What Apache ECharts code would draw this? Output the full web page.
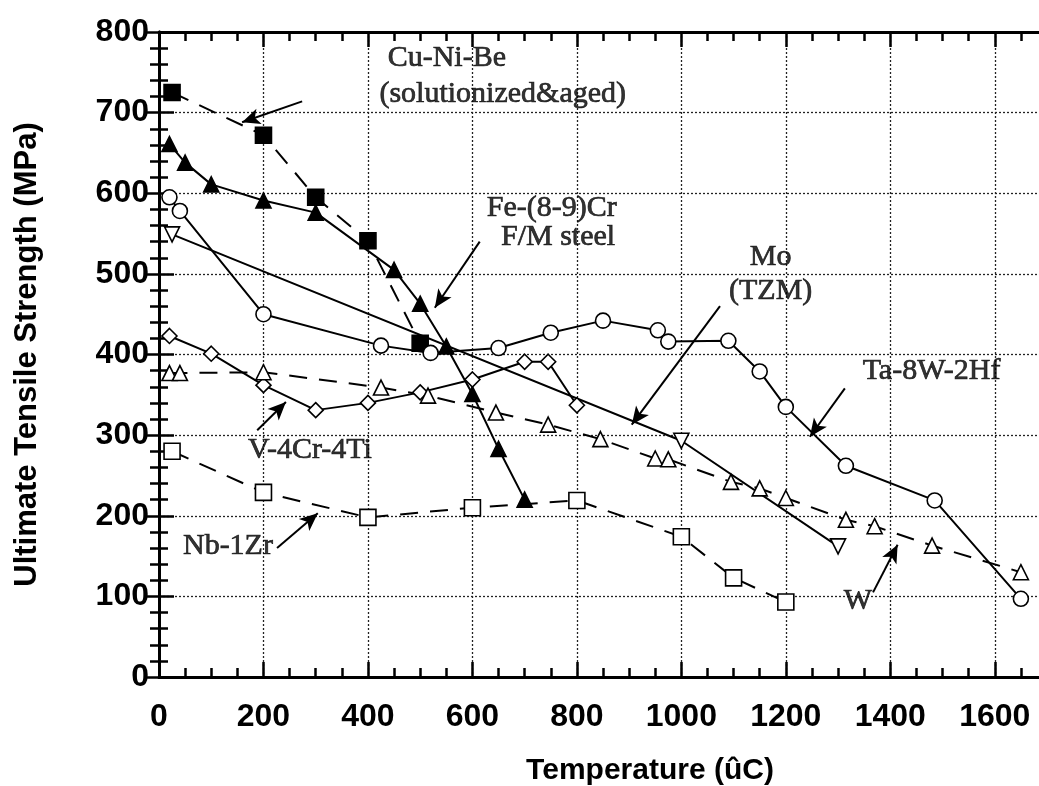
<!DOCTYPE html>
<html>
<head>
<meta charset="utf-8">
<script src="https://cdn.jsdelivr.net/npm/echarts@6/dist/echarts.min.js"></script>
<style>
html,body{margin:0;padding:0;background:#fff;overflow:hidden}
#chart{width:1060px;height:786px}
</style>
</head>
<body>
<div id="chart"></div>
<script>
// values: [temperature (C), UTS (MPa)]
var cuNiBe = [[25,725],[200,672],[300,595],[400,541],[500,414]];
var feCr = [[20,661],[50,638],[100,611],[200,591],[300,576],[450,505],[500,463],[550,410],[600,351],[650,283],[700,220]];
var ta8W2Hf = [[20,595],[40,578],[200,450],[425,411],[520,402],[650,408],[750,427],[850,442],[955,430],[975,416],[1090,417],[1150,379],[1200,335],[1315,262],[1485,219],[1650,97]];
var moTzm = [[25,549],[1000,293],[1300,162]];
var v4Cr4Ti = [[20,423],[100,401],[200,362],[300,331],[400,340],[500,353],[600,369],[700,391],[745,391],[800,337]];
var wData = [[20,377],[40,377],[200,378],[425,359],[515,349],[645,328],[745,313],[845,295],[950,271],[975,270],[1095,242],[1150,234],[1200,222],[1315,195],[1370,187],[1480,163],[1650,130]];
var nb1Zr = [[25,280],[200,229],[400,198],[600,210],[800,219],[1000,174],[1100,123],[1200,93]];

// labels and arrows drawn on the plot (data coords)
var noteText = ['Cu-Ni-Be','(solutionized&aged)','Fe-(8-9)Cr','F/M steel','Mo','(TZM)','Ta-8W-2Hf','V-4Cr-4Ti','Nb-1Zr','W'];
var notePos = [[551,768],[658,723],[752,582],[764,545],[1171,521],[1171,479],[1479,380],[289,282],[132,162],[1338,94]];
var arrows = [[274,714,159,688],[614,540,528,458],[1074,460,905,313],[1313,358,1246,298],[188,306,243,341],[226,160,304,203],[1367,105,1414,164]];

var sans = "'Liberation Sans', Arial, sans-serif";
var serif = "'Liberation Serif', 'Times New Roman', serif";

function makeSeries(name, data, symbol, filled, dashed, rotate){
	return {
		name: name,
		type: 'line',
		data: data,
		xAxisIndex: 0,
		yAxisIndex: 0,
		symbol: symbol,
		symbolSize: symbol == 'rect' ? 16 : 15,
		symbolRotate: rotate || 0,
		showAllSymbol: true,
		lineStyle: {color: '#000', width: 2, type: dashed ? [18, 12] : 'solid'},
		itemStyle: {color: filled ? '#000' : '#fff', borderColor: '#000', borderWidth: 1.6},
		z: 3
	};
}

var chart = echarts.init(document.getElementById('chart'));

var series = [
	makeSeries('Cu-Ni-Be', cuNiBe, 'rect', true, true),
	makeSeries('Fe-(8-9)Cr', feCr, 'triangle', true, false),
	makeSeries('Ta-8W-2Hf', ta8W2Hf, 'circle', false, false),
	makeSeries('Mo (TZM)', moTzm, 'triangle', false, false, 180),
	makeSeries('V-4Cr-4Ti', v4Cr4Ti, 'diamond', false, false),
	makeSeries('W', wData, 'triangle', false, true),
	makeSeries('Nb-1Zr', nb1Zr, 'rect', false, true)
];

// text notes + arrows
series.push({
	type: 'scatter',
	xAxisIndex: 0,
	yAxisIndex: 0,
	symbolSize: 1,
	itemStyle: {color: 'rgba(0,0,0,0)'},
	silent: true,
	z: 5,
	data: notePos.map(function(p, i){ return {name: noteText[i], value: p}; }),
	label: {show: true, position: 'inside', formatter: '{b}', color: '#000', fontFamily: serif, fontSize: 30,
		textBorderColor: '#000', textBorderWidth: 0.7},
	markLine: {
		silent: true,
		symbol: ['none', 'arrow'],
		symbolSize: [12, 18],
		label: {show: false},
		lineStyle: {color: '#000', width: 2, type: 'solid'},
		data: arrows.map(function(a){ return [{coord: [a[0], a[1]]}, {coord: [a[2], a[3]]}]; })
	}
});

function xAx(pos, step, len, main){
	return {
		type: 'value', position: pos, min: 0, max: 1700, interval: step,
		axisLine: {show: main, onZero: false, lineStyle: {color: '#000', width: 3}},
		axisTick: {show: true, inside: true, length: len, lineStyle: {color: '#000', width: 2.5}},
		axisLabel: {show: main && pos == 'bottom', margin: 24, color: '#000', fontFamily: sans, fontWeight: 'bold', fontSize: 32,
			formatter: function(v){ return v % 200 === 0 ? String(v) : ''; }},
		splitLine: {show: main && pos == 'bottom', lineStyle: {color: '#222', width: 1.3, type: [2, 2]}}
	};
}

function yAx(pos, main){
	return {
		type: 'value', position: pos, min: 0, max: 800, interval: 100,
		name: main ? 'Ultimate Tensile Strength (MPa)' : '',
		nameLocation: 'middle', nameGap: 116,
		nameTextStyle: {color: '#000', fontFamily: sans, fontWeight: 'bold', fontSize: 31},
		axisLine: {show: true, lineStyle: {color: '#000', width: 3}},
		axisTick: {show: true, inside: true, length: 15, lineStyle: {color: '#000', width: 2.5}},
		minorTick: {show: true, splitNumber: 5, length: 9, lineStyle: {color: '#000', width: 2.5}},
		axisLabel: {show: main, margin: 10, color: '#000', fontFamily: sans, fontWeight: 'bold', fontSize: 32},
		splitLine: {show: main, lineStyle: {color: '#222', width: 1.3, type: [2, 2]}}
	};
}

var option = {
	animation: false,
	backgroundColor: '#fff',
	grid: {left: 159, top: 32, width: 888, height: 645},
	xAxis: [xAx('bottom', 200, 15, true), xAx('bottom', 50, 9, false), xAx('top', 200, 15, true), xAx('top', 50, 9, false)],
	yAxis: [yAx('left', true), yAx('right', false)],
	graphic: [{
		type: 'text',
		style: {text: 'Temperature (ûC)', x: 650, y: 771, textAlign: 'center', textVerticalAlign: 'middle',
			fill: '#000', font: 'bold 30px ' + sans}
	}],
	series: series
};

chart.setOption(option);
</script>
</body>
</html>
